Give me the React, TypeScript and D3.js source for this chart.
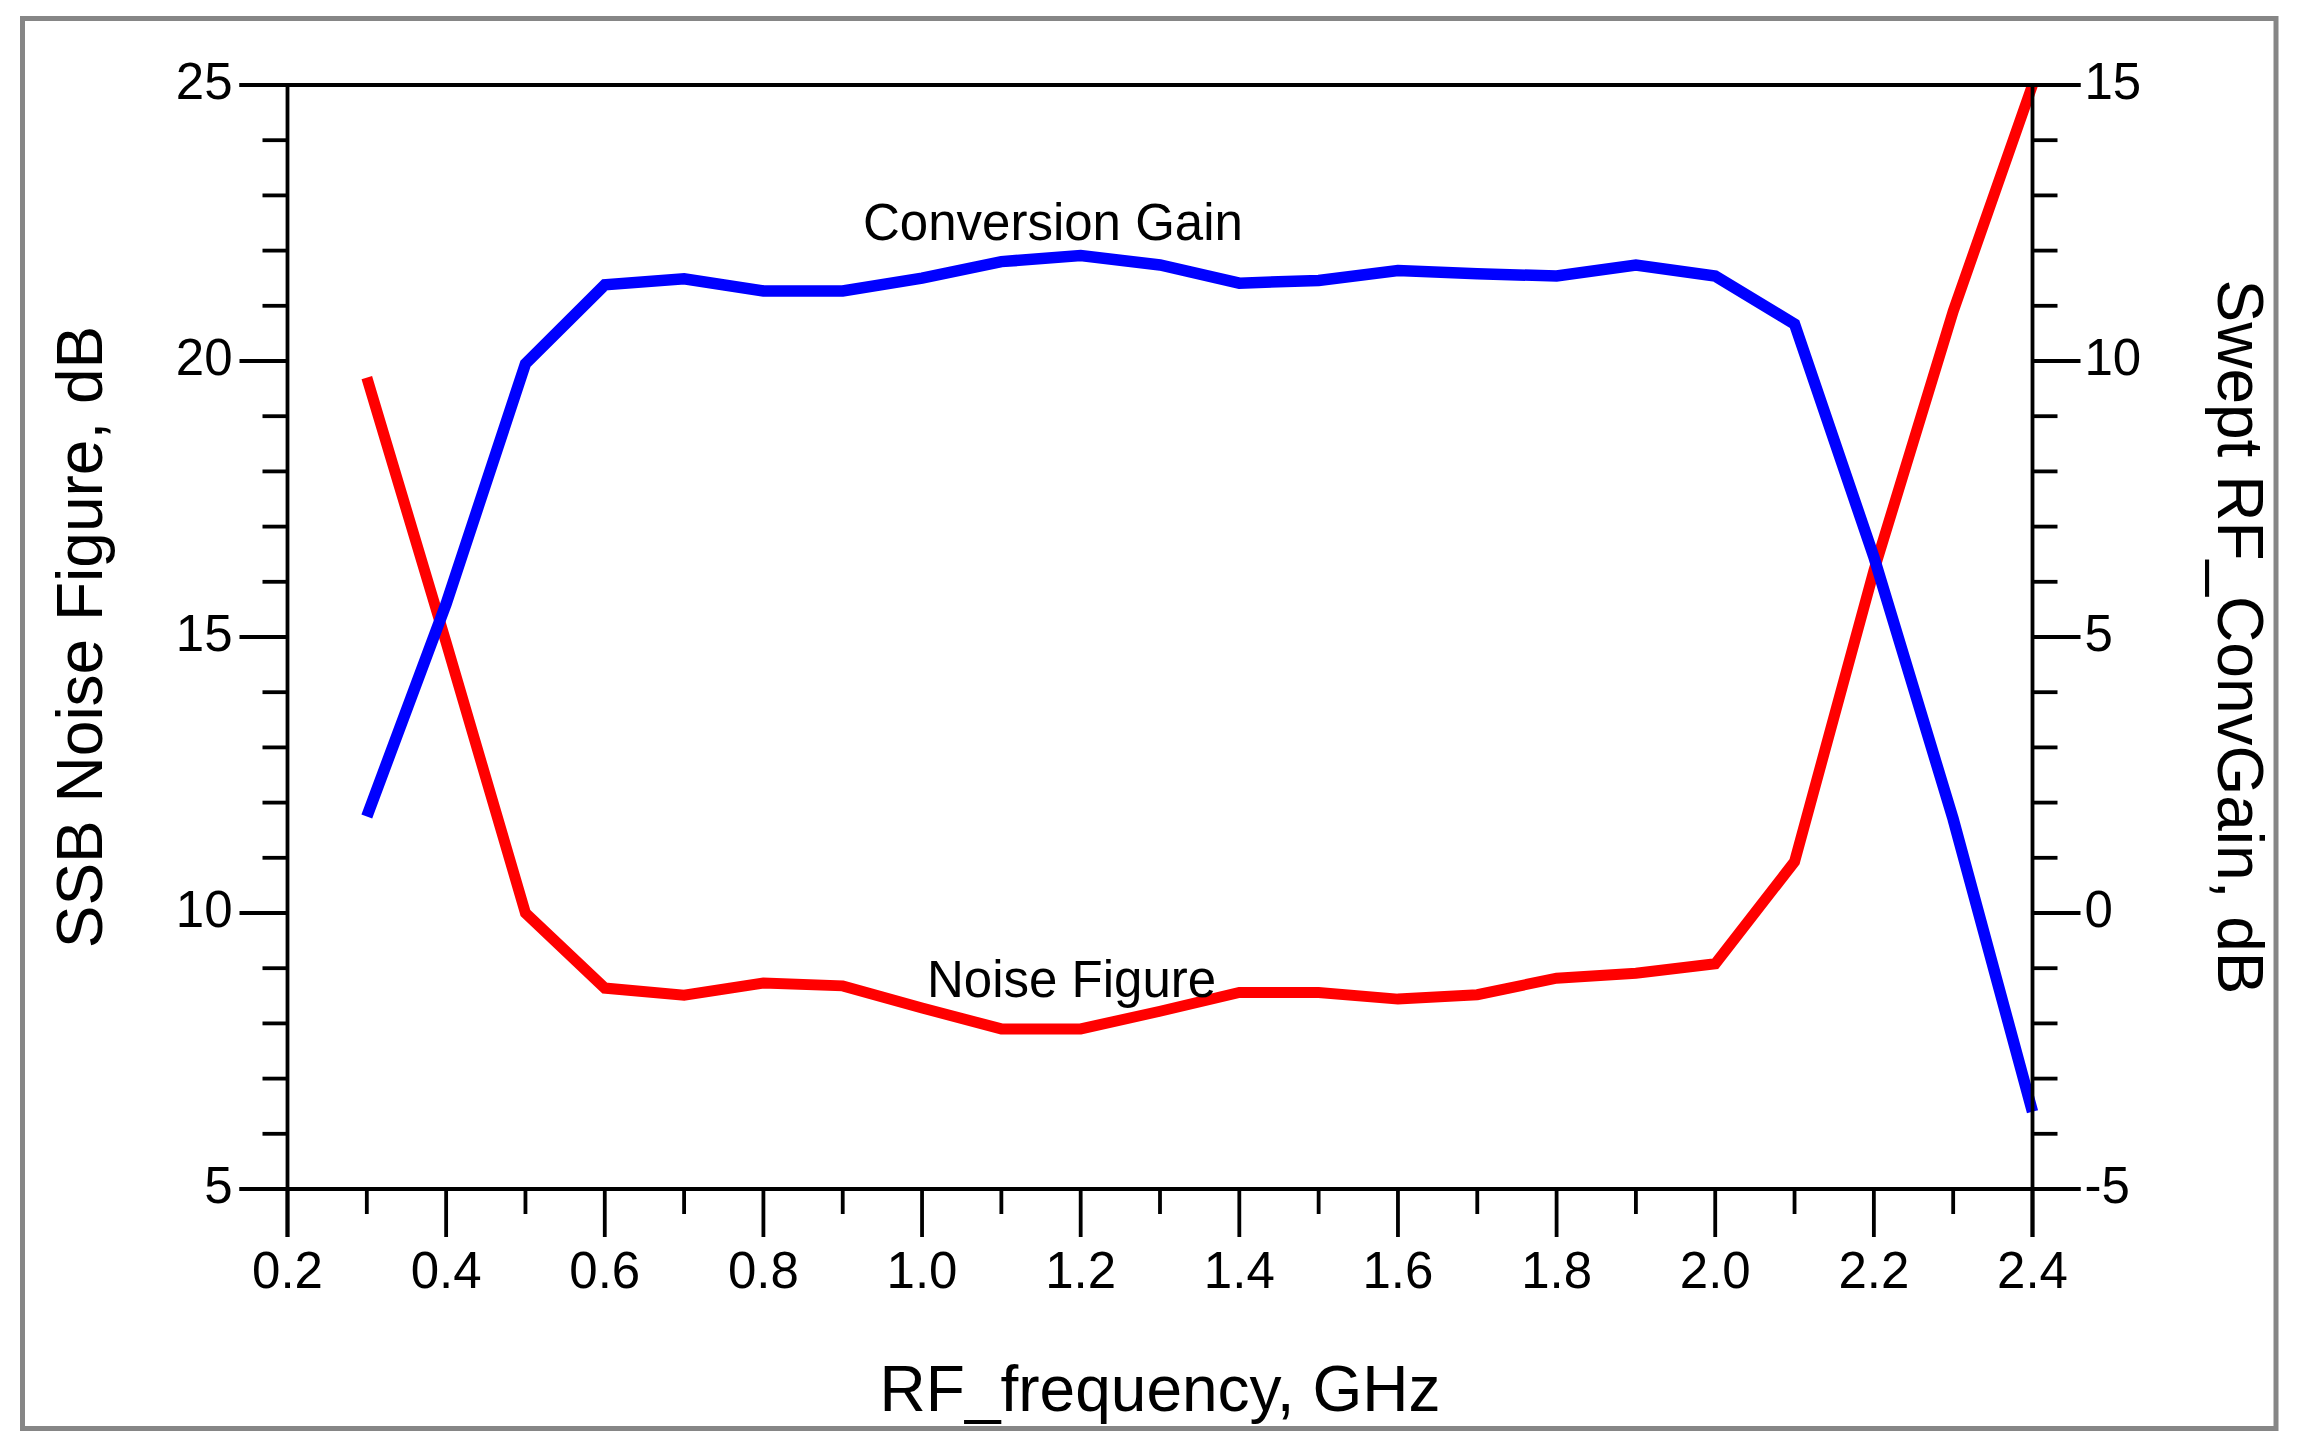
import React from "react";
import * as d3 from "d3";

// ---- data ----
const freqGHz = [0.3, 0.4, 0.5, 0.6, 0.7, 0.8, 0.9, 1.0, 1.1, 1.2, 1.3, 1.4, 1.5, 1.6, 1.7, 1.8, 1.9, 2.0, 2.1, 2.2, 2.3, 2.4];
const noiseFigure = [19.7, 14.9, 10.0, 8.64, 8.51, 8.73, 8.68, 8.28, 7.9, 7.9, 8.22, 8.56, 8.56, 8.44, 8.52, 8.82, 8.91, 9.08, 10.93, 16.2, 20.9, 25.0];
const convGain = [1.75, 5.6, 9.95, 11.38, 11.49, 11.27, 11.27, 11.5, 11.8, 11.91, 11.74, 11.41, 11.46, 11.64, 11.58, 11.54, 11.74, 11.54, 10.67, 6.45, 1.7, -3.6];

const xMajorTicks = [0.2, 0.4, 0.6, 0.8, 1.0, 1.2, 1.4, 1.6, 1.8, 2.0, 2.2, 2.4];
const xMinorTicks = [0.3, 0.5, 0.7, 0.9, 1.1, 1.3, 1.5, 1.7, 1.9, 2.1, 2.3];
const leftMajorTicks = [5, 10, 15, 20, 25];
const rightMajorTicks = [-5, 0, 5, 10, 15];
const minorUnits = d3.range(0, 21); // one minor tick every 1 dB

const xTitle = "RF_frequency, GHz";
const leftTitle = "SSB Noise Figure, dB";
const rightTitle = "Swept RF_ConvGain, dB";
const gainLabel = "Conversion Gain";
const nfLabel = "Noise Figure";

const W = 2300;
const H = 1449;
const M = { left: 287.5, right: 2032.5, top: 85, bottom: 1189 };
const FONT = "'Liberation Sans', Arial, Helvetica, sans-serif";

export default function App() {
  const x = d3.scaleLinear().domain([0.2, 2.4]).range([M.left, M.right]);
  const yL = d3.scaleLinear().domain([5, 25]).range([M.bottom, M.top]);
  const yR = d3.scaleLinear().domain([-5, 15]).range([M.bottom, M.top]);

  const nfLine = d3
    .line<number>()
    .x((_, i) => x(freqGHz[i]))
    .y((d) => yL(d));
  const gainLine = d3
    .line<number>()
    .x((_, i) => x(freqGHz[i]))
    .y((d) => yR(d));

  const axisW = 3.8;
  const majorLen = 48;
  const minorLen = 25;
  const tickFont = 51;
  const titleFont = 64;
  const cy = (M.top + M.bottom) / 2;
  const cx = (M.left + M.right) / 2;

  return (
    <svg
      width={W}
      height={H}
      viewBox={`0 0 ${W} ${H}`}
      style={{ position: "absolute", left: 0, top: 0, background: "#fff" }}
      fontFamily={FONT}
    >
      <rect x={0} y={0} width={W} height={H} fill="#fff" />
      {/* outer frame */}
      <rect x={22.5} y={18.5} width={2276 - 22.5} height={1428.5 - 18.5} fill="none" stroke="#868686" strokeWidth={5} />

      {/* curves */}
      <path d={nfLine(noiseFigure) || ""} fill="none" stroke="#ff0000" strokeWidth={11} strokeLinejoin="miter" />
      <path d={gainLine(convGain) || ""} fill="none" stroke="#0000ff" strokeWidth={11.5} strokeLinejoin="miter" />

      {/* plot box */}
      <g stroke="#000" strokeWidth={axisW} fill="none">
        <line x1={M.left} x2={M.left} y1={M.top} y2={M.bottom + majorLen} />
        <line x1={M.right} x2={M.right} y1={M.top} y2={M.bottom + majorLen} />
        <line x1={M.left - majorLen} x2={M.right + majorLen} y1={M.top} y2={M.top} />
        <line x1={M.left - majorLen} x2={M.right + majorLen} y1={M.bottom} y2={M.bottom} />
        {/* x ticks */}
        {xMajorTicks.map((t) => (
          <line key={"xM" + t} x1={x(t)} x2={x(t)} y1={M.bottom} y2={M.bottom + majorLen} />
        ))}
        {xMinorTicks.map((t) => (
          <line key={"xm" + t} x1={x(t)} x2={x(t)} y1={M.bottom} y2={M.bottom + minorLen} />
        ))}
        {/* left ticks */}
        {minorUnits.map((u) => {
          const v = 5 + u;
          const major = leftMajorTicks.includes(v);
          return <line key={"yl" + u} x1={M.left - (major ? majorLen : minorLen)} x2={M.left} y1={yL(v)} y2={yL(v)} />;
        })}
        {/* right ticks */}
        {minorUnits.map((u) => {
          const v = -5 + u;
          const major = rightMajorTicks.includes(v);
          return <line key={"yr" + u} x1={M.right} x2={M.right + (major ? majorLen : minorLen)} y1={yR(v)} y2={yR(v)} />;
        })}
      </g>

      {/* tick labels */}
      <g fontSize={tickFont} fill="#000">
        {xMajorTicks.map((t) => (
          <text key={"xl" + t} x={x(t)} y={1288} textAnchor="middle">
            {t.toFixed(1)}
          </text>
        ))}
        {leftMajorTicks.map((t) => (
          <text key={"ll" + t} x={M.left - majorLen - 7} y={yL(t) + 13.5} textAnchor="end">
            {String(t)}
          </text>
        ))}
        {rightMajorTicks.map((t) => (
          <text key={"rl" + t} x={M.right + majorLen + 4} y={yR(t) + 13.5} textAnchor="start">
            {String(t)}
          </text>
        ))}
      </g>

      {/* axis titles */}
      <g fontSize={titleFont} fill="#000">
        <text x={cx} y={1411} textAnchor="middle">
          {xTitle}
        </text>
        <text transform={`translate(80,${cy}) rotate(-90)`} textAnchor="middle" dy="0.35em">
          {leftTitle}
        </text>
        <text transform={`translate(2240,${cy}) rotate(90)`} textAnchor="middle" dy="0.35em">
          {rightTitle}
        </text>
      </g>

      {/* curve labels */}
      <g fontSize={tickFont} fill="#000">
        <text x={863} y={240}>
          {gainLabel}
        </text>
        <text x={927} y={997}>
          {nfLabel}
        </text>
      </g>
    </svg>
  );
}
